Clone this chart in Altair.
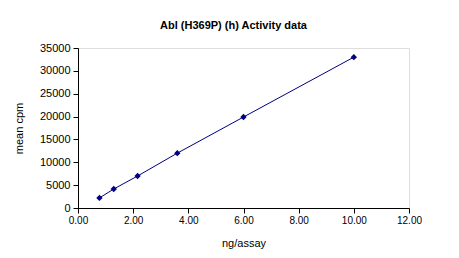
import altair as alt
import pandas as pd

ng_assay = [0.7776, 1.296, 2.16, 3.6, 6.0, 10.0]
mean_cpm = [2200, 4150, 7000, 12000, 19900, 33000]

df = pd.DataFrame({"ng": ng_assay, "cpm": mean_cpm})

FONT = "Liberation Sans"
NAVY = "#000080"

x = alt.X("ng:Q", title="ng/assay",
          scale=alt.Scale(domain=[0, 12], nice=False, zero=True),
          axis=alt.Axis(values=[0, 2, 4, 6, 8, 10, 12], format=".2f", grid=False,
                        labelFlush=False, labelOverlap=False,
                        domainColor="black", tickColor="black", tickSize=5,
                        labelFont=FONT, labelFontSize=10, labelColor="black", labelPadding=2,
                        titleFont=FONT, titleFontSize=11, titleFontWeight="normal",
                        titleColor="black", titlePadding=12))
y = alt.Y("cpm:Q", title="mean cpm",
          scale=alt.Scale(domain=[0, 35000], nice=False),
          axis=alt.Axis(values=list(range(0, 35001, 5000)), format="d", grid=False,
                        labelFlush=False, labelOverlap=False,
                        domainColor="black", tickColor="black", tickSize=5,
                        labelFont=FONT, labelFontSize=11, labelColor="black", labelPadding=3,
                        titleFont=FONT, titleFontSize=11, titleFontWeight="normal",
                        titleColor="black", titlePadding=15))

line = alt.Chart(df).mark_line(color=NAVY, strokeWidth=1).encode(x=x, y=y)
pts = alt.Chart(df).mark_point(shape="diamond", filled=True, color=NAVY, size=40, opacity=1).encode(x=x, y=y)

chart = (line + pts).properties(
    width=331, height=160,
    title=alt.TitleParams("Abl (H369P) (h) Activity data", font=FONT, fontSize=11,
                          fontWeight="bold", color="black", offset=11, dx=-10),
    autosize=alt.AutoSizeParams(type="none"),
    padding={"left": 78, "top": 48, "right": 50, "bottom": 50},
).configure_view(stroke="#808080", strokeWidth=1).configure(background="white")

chart.save("out.html", embed_options={"renderer": "svg", "actions": False})
